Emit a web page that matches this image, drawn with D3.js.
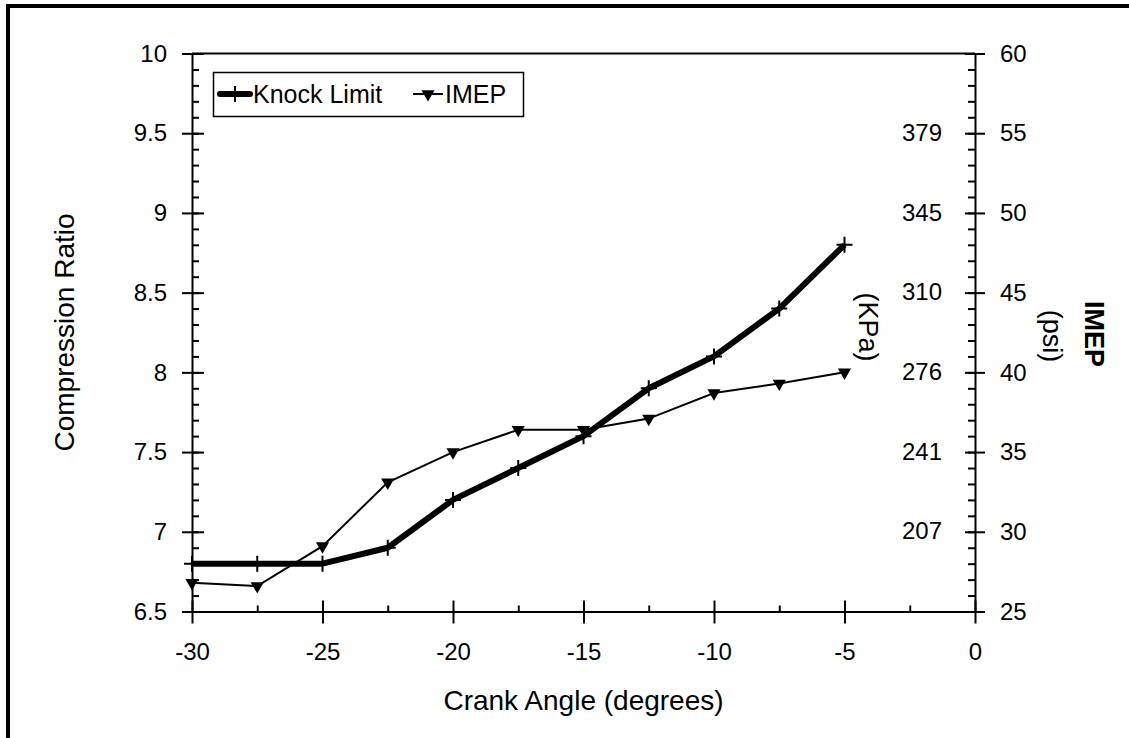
<!DOCTYPE html>
<html>
<head>
<meta charset="utf-8">
<script src="https://cdn.jsdelivr.net/npm/d3@7"></script>
<style>
    html, body { margin: 0; padding: 0; background: #fff; overflow: hidden; }
    svg { display: block; overflow: hidden; }
    svg text { font-family: 'Liberation Sans', Arial, sans-serif; fill: #000; }
    .axis path, .axis line { stroke: #000; stroke-width: 2; }
</style>
</head>
<body>
<svg id="chart" width="1129" height="738"></svg>
<script>
// crank angle (degrees) of each test point
const crankAngles = [-30, -27.5, -25, -22.5, -20, -17.5, -15, -12.5, -10, -7.5, -5]
// knock limited compression ratio
const knockLimit = [6.8, 6.8, 6.8, 6.9, 7.2, 7.4, 7.6, 7.9, 8.1, 8.4, 8.8]
// IMEP in psi
const imepPsi = [26.8, 26.6, 29.1, 33.1, 35.0, 36.4, 36.4, 37.1, 38.7, 39.3, 40.0]

const xTicks = [-30, -25, -20, -15, -10, -5, 0]
const xMinor = [-27.5, -22.5, -17.5, -12.5, -7.5, -2.5]
const crTicks = [6.5, 7, 7.5, 8, 8.5, 9, 9.5, 10]
const psiTicks = [25, 30, 35, 40, 45, 50, 55, 60]
const kpaAt = [30, 35, 40, 45, 50, 55]
const kpaLabels = ['207', '241', '276', '310', '345', '379']

const plot = {left: 192, right: 975, top: 53.5, bottom: 611.5}

const svg = d3.select('#chart')

// outer border, only left and top edges fall inside the picture
svg.append('path')
    .attr('d', 'M8,800V6H1300')
    .attr('fill', 'none')
    .attr('stroke', '#000')
    .attr('stroke-width', 4)

const x = d3.scaleLinear().domain([-30, 0]).range([plot.left, plot.right])
const yCr = d3.scaleLinear().domain([6.5, 10]).range([plot.bottom, plot.top])
const yPsi = d3.scaleLinear().domain([25, 60]).range([plot.bottom, plot.top])

// plain hyphen for negatives, like the original
const fmt = d => String(d)

const axisGroup = (tx, ty) => svg.append('g')
    .attr('class', 'axis')
    .attr('transform', `translate(${tx},${ty})`)

const noDomain = g => g.select('.domain').remove()
const bigText = g => g.selectAll('text').style('font-size', '24px')

// plot top line
svg.append('line')
    .attr('x1', plot.left).attr('x2', plot.right)
    .attr('y1', plot.top).attr('y2', plot.top)
    .attr('stroke', '#000').attr('stroke-width', 2)

// left axis
axisGroup(plot.left, 0)
    .call(d3.axisRight(yCr).tickValues(d3.range(65, 101).map(v => v / 10)).tickSize(7).tickFormat(''))
    .call(noDomain)
axisGroup(plot.left, 0)
    .call(d3.axisRight(yCr).tickValues(crTicks).tickSize(12).tickFormat(''))
    .call(noDomain)
axisGroup(plot.left, 0)
    .call(d3.axisLeft(yCr).tickValues(crTicks).tickSize(10).tickSizeOuter(0).tickPadding(15).tickFormat(fmt))
    .call(bigText)

// right axis (psi outside, kPa inside)
axisGroup(plot.right, 0)
    .call(d3.axisLeft(yPsi).tickValues(d3.range(25, 61)).tickSize(7).tickFormat(''))
    .call(noDomain)
axisGroup(plot.right, 0)
    .call(d3.axisLeft(yPsi).tickValues(psiTicks).tickSize(10).tickFormat(''))
    .call(noDomain)
axisGroup(plot.right, 0)
    .call(d3.axisRight(yPsi).tickValues(psiTicks).tickSize(10).tickSizeOuter(0).tickPadding(15).tickFormat(fmt))
    .call(bigText)

svg.append('g')
    .selectAll('text')
    .data(kpaAt)
    .join('text')
    .attr('x', 942)
    .attr('y', d => yPsi(d))
    .attr('dy', '0.32em')
    .attr('text-anchor', 'end')
    .style('font-size', '24px')
    .text((d, i) => kpaLabels[i])

// bottom axis
axisGroup(0, plot.bottom)
    .call(d3.axisTop(x).tickValues(xMinor).tickSize(6).tickFormat(''))
    .call(noDomain)
axisGroup(0, plot.bottom)
    .call(d3.axisTop(x).tickValues(xTicks).tickSize(11).tickFormat(''))
    .call(noDomain)
axisGroup(0, plot.bottom)
    .call(d3.axisBottom(x).tickValues(xTicks).tickSize(12).tickSizeOuter(0).tickPadding(19).tickFormat(fmt))
    .call(bigText)

// axis titles
const title = (tx, ty, rot, txt, size, bold) => svg.append('text')
    .attr('transform', `translate(${tx},${ty}) rotate(${rot})`)
    .attr('text-anchor', 'middle')
    .attr('dy', '0.35em')
    .style('font-size', size + 'px')
    .style('font-weight', bold ? 'bold' : 'normal')
    .text(txt)

title(583.5, 700, 0, 'Crank Angle (degrees)', 28)
title(64, 332.5, -90, 'Compression Ratio', 28)
title(868, 327, 90, '(KPa)', 27)
title(1052, 336, 90, '(psi)', 27)
title(1094, 334, 90, 'IMEP', 27, true)

// series
const knockLine = d3.line()
    .x((d, i) => x(crankAngles[i]))
    .y(d => yCr(d))

const imepLine = d3.line()
    .x((d, i) => x(crankAngles[i]))
    .y(d => yPsi(d))

const plusPath = 'M-8,0H8M0,-8V8'
const tri = d3.symbol().type(d3.symbolTriangle).size(75)

svg.append('path')
    .datum(imepPsi)
    .attr('d', imepLine)
    .attr('fill', 'none')
    .attr('stroke', '#000')
    .attr('stroke-width', 2)

svg.append('g')
    .selectAll('path')
    .data(imepPsi)
    .join('path')
    .attr('transform', (d, i) => `translate(${x(crankAngles[i])},${yPsi(d)}) rotate(180)`)
    .attr('d', tri)
    .attr('fill', '#000')

svg.append('path')
    .datum(knockLimit)
    .attr('d', knockLine)
    .attr('fill', 'none')
    .attr('stroke', '#000')
    .attr('stroke-width', 6)
    .attr('stroke-linejoin', 'round')

svg.append('g')
    .selectAll('path')
    .data(knockLimit)
    .join('path')
    .attr('transform', (d, i) => `translate(${x(crankAngles[i])},${yCr(d)})`)
    .attr('d', plusPath)
    .attr('stroke', '#000')
    .attr('stroke-width', 2)

// legend
const legend = svg.append('g')
legend.append('rect')
    .attr('x', 213.5).attr('y', 72.5)
    .attr('width', 310).attr('height', 44)
    .attr('fill', '#fff')
    .attr('stroke', '#000')
    .attr('stroke-width', 1.5)

legend.append('line')
    .attr('x1', 220).attr('x2', 250)
    .attr('y1', 94).attr('y2', 94)
    .attr('stroke', '#000').attr('stroke-width', 6)
    .attr('stroke-linecap', 'round')
legend.append('path')
    .attr('transform', 'translate(235,94)')
    .attr('d', plusPath)
    .attr('stroke', '#000').attr('stroke-width', 2)
legend.append('text')
    .attr('x', 253).attr('y', 94).attr('dy', '0.35em')
    .style('font-size', '25px')
    .text('Knock Limit')

legend.append('line')
    .attr('x1', 413).attr('x2', 443)
    .attr('y1', 94).attr('y2', 94)
    .attr('stroke', '#000').attr('stroke-width', 2)
legend.append('path')
    .attr('transform', 'translate(428,94) rotate(180)')
    .attr('d', tri)
    .attr('fill', '#000')
legend.append('text')
    .attr('x', 445).attr('y', 94).attr('dy', '0.35em')
    .style('font-size', '25px')
    .text('IMEP')
</script>
</body>
</html>
